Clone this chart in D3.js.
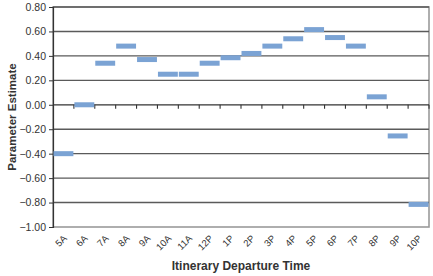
<!DOCTYPE html>
<html><head><meta charset="utf-8">
<script src="https://cdn.jsdelivr.net/npm/d3@7"></script>
<style>body{margin:0;background:#fff}svg{display:block}text{font-family:"Liberation Sans",Arial,sans-serif}</style>
</head><body><svg id="c" width="433" height="276"></svg>
<script>
const categories = ["5A","6A","7A","8A","9A","10A","11A","12P","1P","2P","3P","4P","5P","6P","7P","8P","9P","10P"];
const estimates = [-0.40,0.00,0.34,0.48,0.37,0.25,0.25,0.34,0.385,0.42,0.48,0.54,0.615,0.55,0.48,0.065,-0.255,-0.815];
const yTicks = [0.8,0.6,0.4,0.2,0,-0.2,-0.4,-0.6,-0.8,-1.0];

const svg = d3.select("#c");
const m = {l:53, r:429, t:7, b:227};
const x = d3.scaleBand().domain(categories).range([m.l, m.r]).padding(0);
const y = d3.scaleLinear().domain([-1, 0.8]).range([m.b, m.t]);

// plot border
svg.append("rect").attr("x", m.l).attr("y", m.t).attr("width", m.r-m.l).attr("height", m.b-m.t)
  .attr("fill","none").attr("stroke","#9a9a9a").attr("stroke-width",1.6);

// gridlines
svg.append("g").selectAll("line").data(yTicks.filter(d=>Math.abs(d)>1e-9 && d>-0.99)).join("line")
  .attr("x1", m.l).attr("x2", m.r)
  .attr("y1", d=>y(d)).attr("y2", d=>y(d))
  .attr("stroke","#5a5a5a").attr("stroke-width",1.4);

// y axis
const ya = svg.append("g").attr("transform",`translate(${m.l},0)`)
  .call(d3.axisLeft(y).tickValues(yTicks).tickFormat(d3.format(".2f")).tickSize(4).tickPadding(3));
ya.select(".domain").attr("stroke","#333").attr("stroke-width",1.2);
ya.selectAll(".tick line").attr("stroke","#333");
ya.selectAll("text").attr("font-size",10.5).attr("fill","#333");

// zero axis with ticks at category boundaries
const y0 = y(0);
svg.append("line").attr("x1",m.l).attr("x2",m.r).attr("y1",y0).attr("y2",y0).attr("stroke","#333").attr("stroke-width",1.2);
const bounds = categories.map(d=>x(d)+x.bandwidth());
svg.append("g").selectAll("line").data(bounds).join("line")
  .attr("x1", d=>d).attr("x2", d=>d)
  .attr("y1", y0).attr("y2", y0+4).attr("stroke","#333").attr("stroke-width",1.1);

// markers (dashes)
svg.append("g").selectAll("rect").data(categories).join("rect")
  .attr("x", d=>x(d)+0.5).attr("width", x.bandwidth()-1)
  .attr("y", (d,i)=>y(estimates[i])-2.5).attr("height",5)
  .attr("fill","#7ba3d4");

// x labels
svg.append("g").selectAll("text").data(categories).join("text")
  .attr("transform", d=>`translate(${x(d)+x.bandwidth()/2+4},${m.b+12}) rotate(-45)`)
  .attr("text-anchor","end").attr("font-size",9.5).attr("fill","#333").text(d=>d);

// titles
svg.append("text").attr("x",(m.l+m.r)/2).attr("y",270).attr("text-anchor","middle")
  .attr("font-size",12).attr("font-weight","bold").attr("fill","#333").text("Itinerary Departure Time");
svg.append("text").attr("transform",`translate(16,${(m.t+m.b)/2}) rotate(-90)`).attr("text-anchor","middle")
  .attr("font-size",11.5).attr("font-weight","bold").attr("fill","#333").text("Parameter Estimate");
</script></body></html>
